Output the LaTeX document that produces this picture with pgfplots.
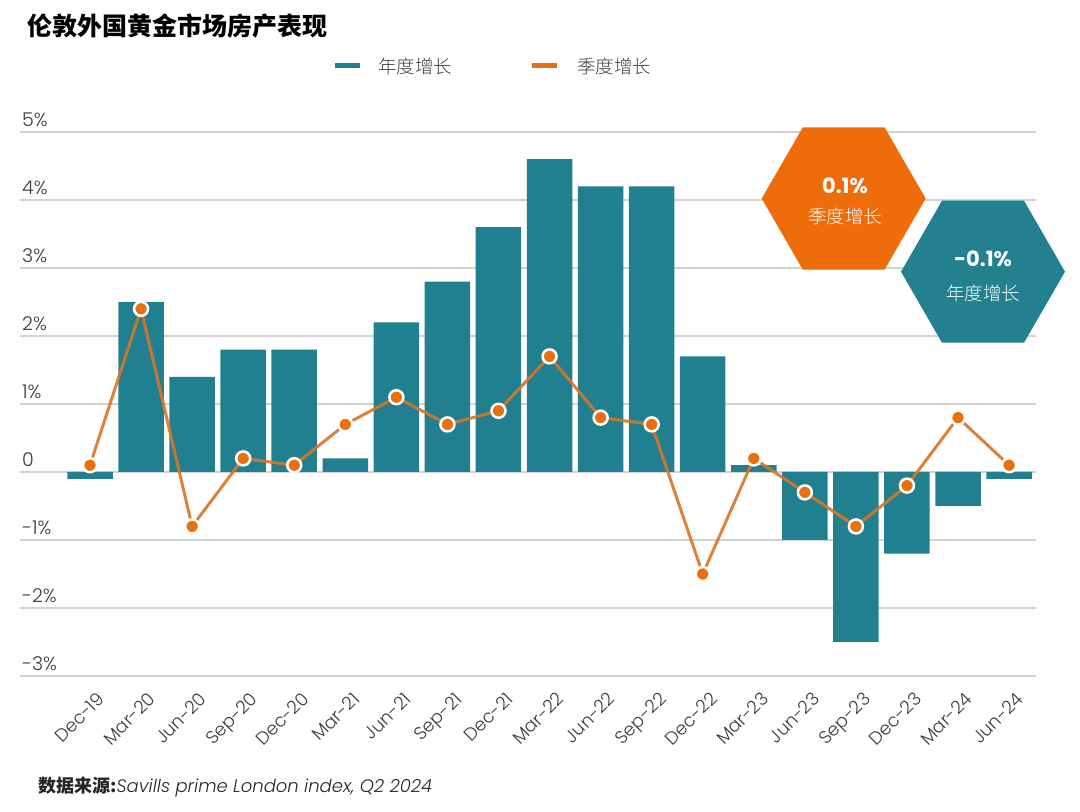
\documentclass[border=0pt]{standalone}
\usepackage{fontspec}
\IfFontExistsTF{Poppins Light}
  {\setmainfont{Poppins}[UprightFont=* Light, ItalicFont=* Light Italic, BoldFont=* SemiBold, BoldItalicFont=* SemiBold Italic]}
  {\setmainfont{Poppins}}
\IfFontExistsTF{Noto Sans CJK SC Light}
  {\newfontfamily\cjk{Noto Sans CJK SC Light}[BoldFont={Noto Sans CJK SC Bold}]}
  {\newfontfamily\cjk{Noto Sans CJK SC}}
\newfontfamily\cjkbold{Noto Sans CJK SC}
\newfontfamily\popbold{Poppins}[UprightFont=*, BoldFont=* Bold]
\usepackage{pgfplots}
\pgfplotsset{compat=1.18}
\definecolor{teal1}{HTML}{20808F}
\definecolor{org}{HTML}{E8700E}
\definecolor{orgline}{HTML}{D77628}
\definecolor{hexorg}{HTML}{EE6C0A}
\definecolor{hexteal}{HTML}{23808F}
\definecolor{gridc}{HTML}{D2D2D2}
\definecolor{tickc}{HTML}{3C3C3C}
\begin{document}
\begin{tikzpicture}[x=1pt,y=1pt]
\path[use as bounding box] (0,0) rectangle (1080,812);
\begin{axis}[
  at={(20pt,136pt)}, anchor=south west, scale only axis,
  width=1016pt, height=544pt,
  xmin=-1.371, xmax=18.527, ymin=-3, ymax=5,
  axis line style={draw=none},
  tick style={draw=none},
  ymajorgrids, grid style={gridc, line width=1.3pt},
  ytick={-3,-2,-1,0,1,2,3,4,5},
  yticklabels={-3\%,-2\%,-1\%,0,1\%,2\%,3\%,4\%,5\%},
  yticklabel style={anchor=south west, inner sep=0pt, xshift=2pt, yshift=5pt,
    font=\fontsize{19}{22}\selectfont, text=tickc},
  xtick={0,1,2,3,4,5,6,7,8,9,10,11,12,13,14,15,16,17,18},
  xticklabels={Dec-19,Mar-20,Jun-20,Sep-20,Dec-20,Mar-21,Jun-21,Sep-21,Dec-21,Mar-22,Jun-22,Sep-22,Dec-22,Mar-23,Jun-23,Sep-23,Dec-23,Mar-24,Jun-24},
  xticklabel style={rotate=45, anchor=north east, inner sep=0pt, xshift=-6pt, yshift=-15pt,
    font=\fontsize{18}{21}\selectfont, text=tickc},
]
\addplot[ybar, bar width=45.5pt, bar shift=0pt, fill=teal1, draw=none] coordinates {
(0,-0.1) (1,2.5) (2,1.4) (3,1.8) (4,1.8) (5,0.2) (6,2.2) (7,2.8) (8,3.6) (9,4.6)
(10,4.2) (11,4.2) (12,1.7) (13,0.1) (14,-1.0) (15,-2.5) (16,-1.2) (17,-0.5) (18,-0.1)};
\addplot[orgline, line width=3pt, opacity=0.9, mark=*, mark size=7pt,
  mark options={fill=org, draw=white, line width=2.5pt, opacity=1}] coordinates {
(0,0.1) (1,2.4) (2,-0.8) (3,0.2) (4,0.1) (5,0.7) (6,1.1) (7,0.7) (8,0.9) (9,1.7)
(10,0.8) (11,0.7) (12,-1.5) (13,0.2) (14,-0.3) (15,-0.8) (16,-0.2) (17,0.8) (18,0.1)};
\end{axis}
% title
\node[anchor=west, inner sep=0pt] at (27,786) {\cjkbold\bfseries\fontsize{25}{28}\selectfont 伦敦外国黄金市场房产表现};
% legend
\draw[teal1, line width=5pt] (335,746) -- (360,746);
\node[anchor=west, inner sep=0pt, text=tickc] at (378,746) {\cjk\fontsize{18.5}{21}\selectfont 年度增长};
\draw[org, line width=5pt] (532,746) -- (557,746);
\node[anchor=west, inner sep=0pt, text=tickc] at (577,746) {\cjk\fontsize{18.5}{21}\selectfont 季度增长};
% hexagons
\fill[hexorg] (843.7,613.5) +(0:82) -- +(60:82) -- +(120:82) -- +(180:82) -- +(240:82) -- +(300:82) -- cycle;
\fill[hexteal] (983,540.3) +(0:82) -- +(60:82) -- +(120:82) -- +(180:82) -- +(240:82) -- +(300:82) -- cycle;
\node[text=white, inner sep=0pt] at (845,626) {\popbold\bfseries\fontsize{21}{24}\selectfont 0.1\%};
\node[text=white, inner sep=0pt] at (845,596) {\cjk\fontsize{18.5}{21}\selectfont 季度增长};
\node[text=white, inner sep=0pt] at (983,553) {\popbold\bfseries\fontsize{21}{24}\selectfont -0.1\%};
\node[text=white, inner sep=0pt] at (983,519) {\cjk\fontsize{18.5}{21}\selectfont 年度增长};
% source
\node[anchor=west, inner sep=0pt, text=black!85] at (38,25) {{\cjkbold\bfseries\fontsize{18}{21}\selectfont 数据来源:}{\itshape\fontsize{18}{21}\selectfont Savills prime London index, Q2 2024}};
\end{tikzpicture}
\end{document}
